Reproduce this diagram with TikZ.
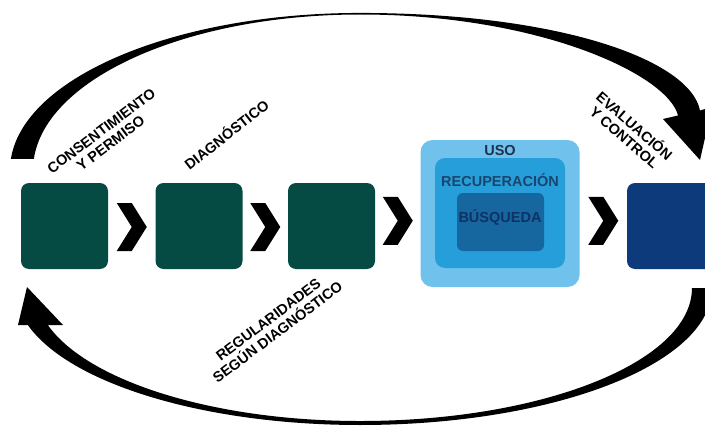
\documentclass[tikz,border=0pt]{standalone}
\usepackage{fontspec}
\setmainfont{Liberation Sans}
\usetikzlibrary{calc}
\definecolor{tealbox}{RGB}{6,74,68}
\definecolor{navybox}{RGB}{12,58,122}
\definecolor{usoblue}{RGB}{112,194,236}
\definecolor{recblue}{RGB}{38,158,218}
\definecolor{busblue}{RGB}{22,102,160}
\definecolor{usotext}{RGB}{30,50,80}
\definecolor{rectext}{RGB}{25,70,110}
\definecolor{bustext}{RGB}{15,50,100}
\begin{document}
\begin{tikzpicture}[x=1pt,y=-1pt,
  stage/.style={fill=tealbox, rounded corners=8pt, minimum width=87pt, minimum height=86pt, inner sep=0pt},
  lab/.style={font=\fontsize{14.5}{15.5}\selectfont\bfseries, align=center, inner sep=0pt},
  boxlab/.style={font=\fontsize{14.5}{15}\selectfont\bfseries, inner sep=0pt},
  chevron/.pic={\fill[black] (-15,-24) -- (0,-24) -- (15,0) -- (0,24) -- (-15,24) -- (0,0) -- cycle;}
]
\useasboundingbox (0,0) rectangle (705,428);
\clip (0,0) rectangle (705,428);
\fill[white] (0,0) rectangle (705,428);

% stage boxes
\node[stage] (b1) at (64.5,226) {};
\node[stage] (b2) at (199,226) {};
\node[stage] (b3) at (331.5,226) {};
\node[stage, fill=navybox, minimum width=90pt] (b5) at (672,226) {};

% USO nested boxes
\node[fill=usoblue, rounded corners=12pt, minimum width=159pt, minimum height=147pt, inner sep=0pt] (uso) at (500,213.5) {};
\node[fill=recblue, rounded corners=10pt, minimum width=130pt, minimum height=110pt, inner sep=0pt] (rec) at (500,213) {};
\node[fill=busblue, rounded corners=6pt, minimum width=87pt, minimum height=58pt, inner sep=0pt] (bus) at (500.5,222) {};
\node[boxlab, text=usotext] (usolab) at (500,151) {USO};
\node[boxlab, text=rectext] (reclab) at (500,180) {RECUPERACIÓN};
\node[boxlab, text=bustext] (buslab) at (500,218) {BÚSQUEDA};

% chevrons between stages
\pic at ($(b1.east)!0.5!(b2.west)+(0,1)$) {chevron};
\pic at ($(b2.east)!0.5!(b3.west)+(0,1)$) {chevron};
\pic at ($(b3.east)!0.5!(uso.west)+(0,1)$) {chevron};
\pic at ($(uso.east)!0.5!(b5.west)+(0,1)$) {chevron};

% top feedback arc with arrowhead
\fill[black] (10.9,159) arc[start angle=184, end angle=270, x radius=350, y radius=157]
  .. controls (560,13) and (690,60) .. (700,110.5)
  -- (712,107) -- (700,160) -- (663,119) -- (678,115.5)
  .. controls (668,75) and (540,14.5) .. (360,14.5)
  arc[start angle=270, end angle=184.07, x radius=327, y radius=155.5] -- cycle;

% bottom feedback arc with arrowhead
\fill[black] (712,288) arc[start angle=0, end angle=90, x radius=352, y radius=137]
  arc[start angle=90, end angle=164.33, x radius=345, y radius=137]
  -- (18,325) -- (27,287) -- (63,325) -- (47.8,325)
  arc[start angle=163.85, end angle=90, x radius=325, y radius=133]
  arc[start angle=90, end angle=0, x radius=332, y radius=133] -- cycle;

% labels
\node[lab, rotate=37] (cons) at (106,137) {CONSENTIMIENTO\\Y PERMISO};
\node[lab, rotate=38] (diag) at (226,134) {DIAGNÓSTICO};
\node[lab, rotate=-41] (eval) at (630,131) {EVALUACIÓN\\Y CONTROL};
\node[lab, rotate=37] (reg) at (273,326) {REGULARIDADES\\SEGÚN DIAGNÓSTICO};
\end{tikzpicture}
\end{document}
